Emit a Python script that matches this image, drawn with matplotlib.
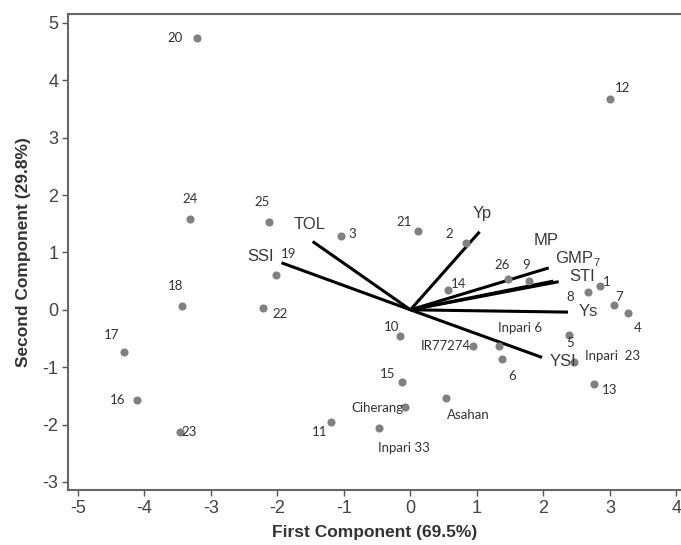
import matplotlib
matplotlib.use("Agg")
import matplotlib.pyplot as plt

# Genotype scores (first, second component)
genotypes = ["20", "12", "24", "25", "3", "21", "2", "19", "22", "18", "17", "16", "23",
             "14", "26", "9", "8", "1", "7", "4", "5", "Inpari  23", "13", "Inpari 6", "6",
             "IR77274", "10", "15", "Ciherang", "Asahan", "11", "Inpari 33"]
pc1 = [-3.21, 3.00, -3.31, -2.13, -1.05, 0.12, 0.83, -2.02, -2.21, -3.43, -4.31, -4.12, -3.47,
       0.57, 1.47, 1.79, 2.67, 2.85, 3.06, 3.28, 2.39, 2.46, 2.76, 1.33, 1.38,
       0.94, -0.15, -0.13, -0.08, 0.54, -1.19, -0.48]
pc2 = [4.73, 3.67, 1.58, 1.53, 1.28, 1.37, 1.16, 0.61, 0.04, 0.06, -0.73, -1.58, -2.13,
       0.35, 0.53, 0.50, 0.31, 0.41, 0.09, -0.06, -0.44, -0.91, -1.30, -0.63, -0.86,
       -0.63, -0.46, -1.26, -1.69, -1.54, -1.96, -2.06]
# label offsets in pixels (dx, dy; dy positive = down)
label_off = [(-22, 0), (13, -11), (0, -20), (-7, -20), (12, -2), (-14, -9), (-16, -9), (12, -21),
             (17, 6), (-7, -20), (-12, -17), (-19, 0), (9, 0),
             (10, -6), (-6, -14), (-3, -16), (-18, 5), (7, -4), (5, -8), (9, 15), (1, 8),
             (39, -6), (16, 6), (21, -18), (10, 17), (-27, 0), (-9, -9), (-14, -8),
             (-28, 1), (22, 17), (-12, 10), (25, 20)]

# Trait vectors
traits = ["Yp", "MP", "GMP", "STI", "Ys", "YSI", "TOL", "SSI"]
vx = [1.04, 2.08, 2.15, 2.23, 2.37, 1.98, -1.47, -1.94]
vy = [1.36, 0.73, 0.50, 0.49, -0.04, -0.83, 1.19, 0.82]
trait_off = [(3, -18), (-3, -27), (21, -23), (23, -5), (20, -1), (21, 4), (-3, -17), (-21, -6)]

xticks = [-5, -4, -3, -2, -1, 0, 1, 2, 3, 4]
yticks = [-3, -2, -1, 0, 1, 2, 3, 4, 5]

fig = plt.figure(figsize=(6.81, 5.45), dpi=100)
ax = fig.add_axes([0.0999, 0.1009, 0.9001, 0.874])

for x, y in zip(vx, vy):
    ax.plot([0, x], [0, y], color="black", lw=2.2, solid_capstyle="butt", zorder=2)
for t, x, y, (dx, dy) in zip(traits, vx, vy, trait_off):
    ax.annotate(t, (x, y), xytext=(dx, -dy), textcoords="offset pixels",
                ha="center", va="center", fontsize=12, color="#3a3a3a",
                family="Liberation Sans", zorder=4)
ax.annotate("7", (2.15, 0.50), xytext=(43, 18), textcoords="offset pixels",
            ha="center", va="center", fontsize=8, color="#3a3a3a", family="Liberation Sans")

ax.scatter(pc1, pc2, s=34, color="#808080", zorder=3, linewidths=0)
for g, x, y, (dx, dy) in zip(genotypes, pc1, pc2, label_off):
    ax.annotate(g, (x, y), xytext=(dx, -dy), textcoords="offset pixels",
                ha="center", va="center", fontsize=9.5, color="#333333",
                family="Lato", zorder=4)

ax.set_xlim(-5.15, 4.07)
ax.set_ylim(-3.14, 5.16)
ax.set_xticks(xticks)
ax.set_yticks(yticks)
ax.set_xticklabels([str(v) for v in xticks], family="Liberation Sans", fontsize=13, color="#444444")
ax.set_yticklabels([str(v) for v in yticks], family="Liberation Sans", fontsize=13, color="#444444")
ax.tick_params(direction="out", length=4, width=1, color="#555555", pad=3)
for side in ["left", "bottom", "top"]:
    ax.spines[side].set_color("#666666")
    ax.spines[side].set_linewidth(1.5)
ax.spines["right"].set_visible(False)

ax.set_xlabel("First Component (69.5%)", fontsize=12.5, fontweight="bold",
              family="Liberation Sans", color="#333333", labelpad=6)
ax.set_ylabel("Second Component (29.8%)", fontsize=12.5, fontweight="bold",
              family="Liberation Sans", color="#333333", labelpad=8)

fig.savefig("out.png", dpi=100)
